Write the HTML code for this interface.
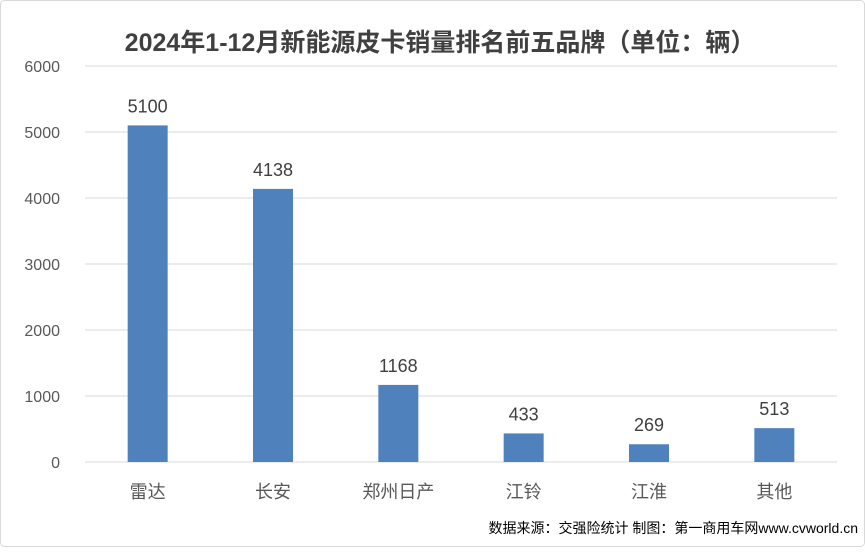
<!DOCTYPE html>
<html><head><meta charset="utf-8"><style>
body{margin:0;background:#fff;}
svg text{font-family:"Liberation Sans","Noto Sans CJK SC",sans-serif;}
</style></head><body>
<svg width="865" height="547" viewBox="0 0 865 547">
<rect x="0.5" y="0.5" width="864" height="546" rx="4" fill="#fff" stroke="#d9d9d9"/>
<text x="440" y="51" text-anchor="middle" font-size="25" font-weight="bold" fill="#404040">2024年1-12月新能源皮卡销量排名前五品牌（单位：辆）</text>
<g id="grid"></g><g id="bars"></g>
<text x="858" y="533" text-anchor="end" font-size="14" fill="#000">数据来源：交强险统计 制图：第一商用车网www.cvworld.cn</text>
</svg>
<script>
const categories=["雷达","长安","郑州日产","江铃","江淮","其他"];
const values=[5100,4138,1168,433,269,513];
const ticks=[0,1000,2000,3000,4000,5000,6000];
const ns="http://www.w3.org/2000/svg";
const x0=85,x1=837,y0=462,yTop=66,ymax=6000;
const y=v=>y0-(v/ymax)*(y0-yTop);
const band=(x1-x0)/categories.length;
const cx=i=>x0+band*(i+0.5);
function mk(t,a,p){const e=document.createElementNS(ns,t);for(const k in a)e.setAttribute(k,a[k]);p.appendChild(e);return e;}
const g=document.getElementById('grid'),b=document.getElementById('bars');
ticks.forEach(t=>{
const l=mk('line',{x1:x0,x2:x1,y1:y(t),y2:y(t),stroke:'#d9d9d9','stroke-width':1},g);


const tx=mk('text',{x:60,y:y(t)+6,'text-anchor':'end','font-size':16,fill:'#595959'},g);tx.textContent=t;


});
categories.forEach((c,i)=>{
const r=mk('rect',{x:cx(i)-20,y:y(values[i]),width:40,height:y0-y(values[i]),fill:'#4f81bd'},b);


const v=mk('text',{x:cx(i),y:y(values[i])-13,'text-anchor':'middle','font-size':18,fill:'#404040'},b);v.textContent=values[i];


const tl=mk('text',{x:cx(i),y:498,'text-anchor':'middle','font-size':18,fill:'#595959'},b);tl.textContent=c;


});
</script>
</body></html>
